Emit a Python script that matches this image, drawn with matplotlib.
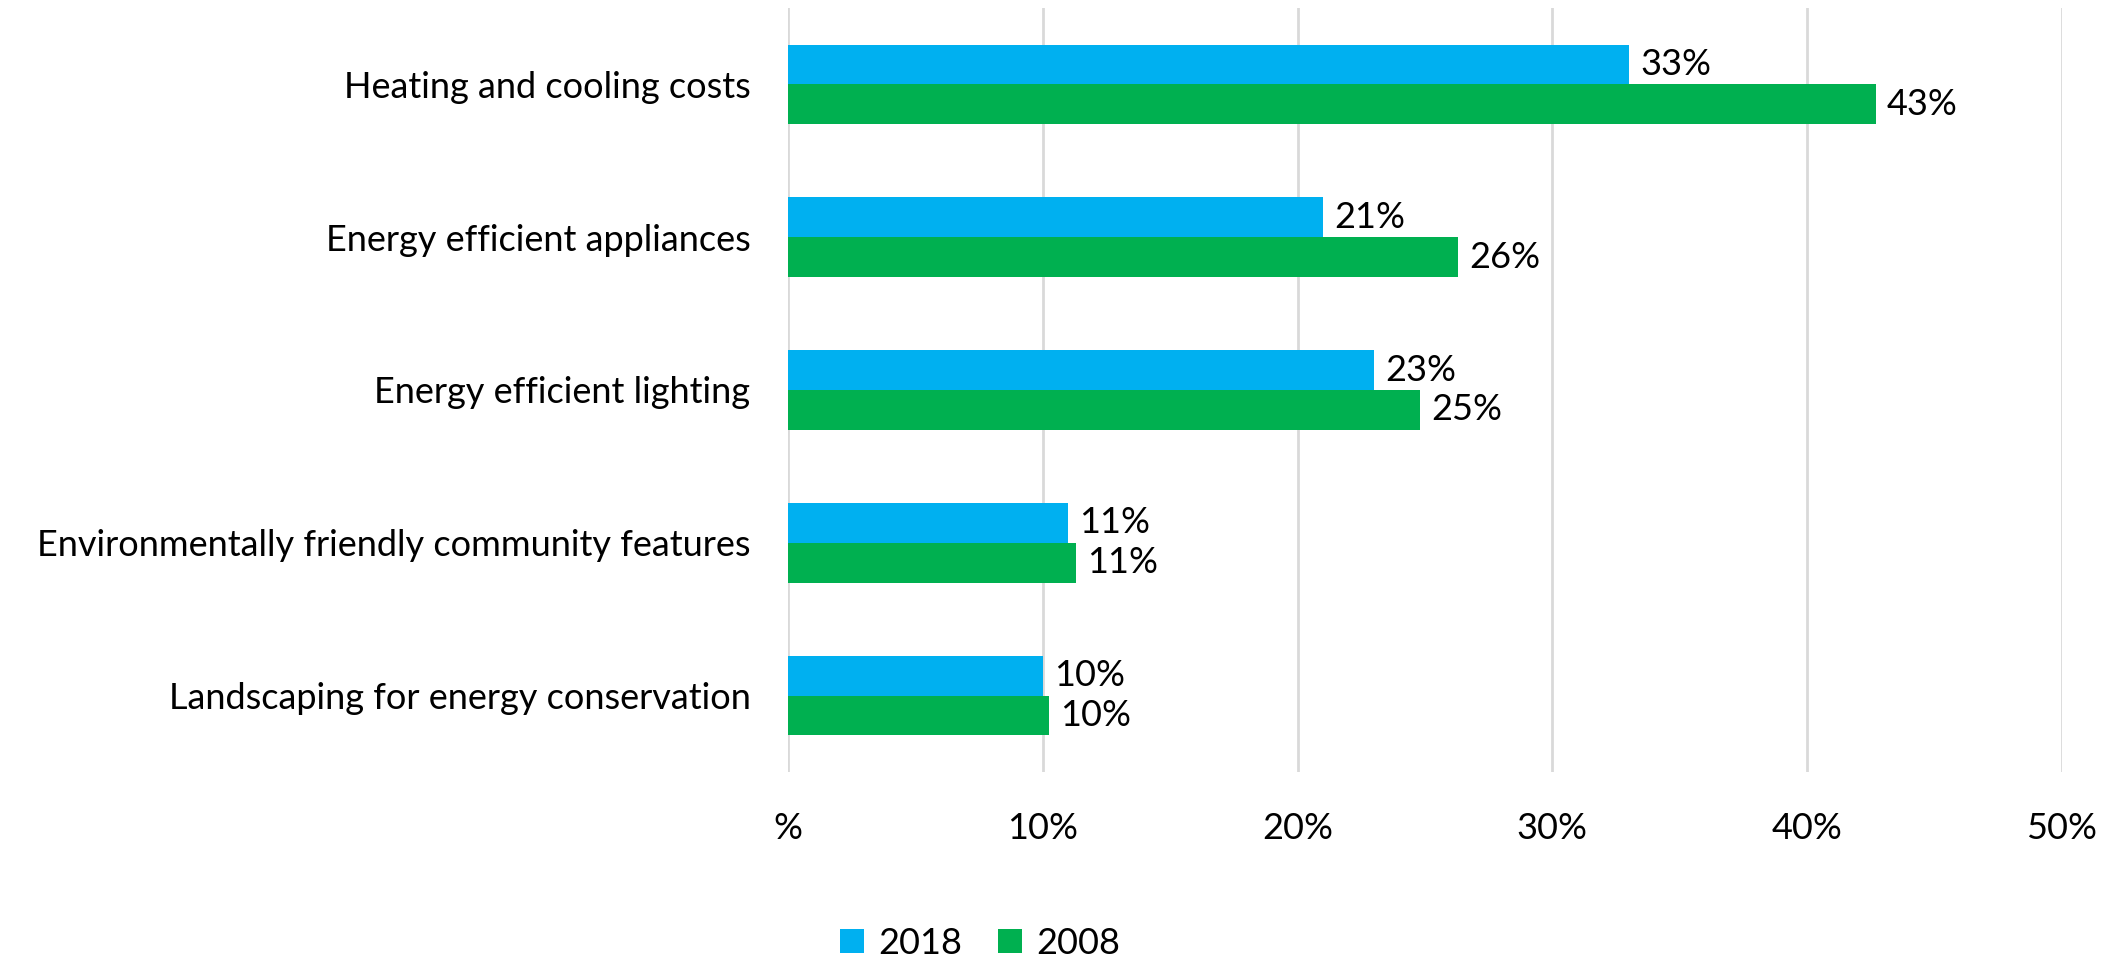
import matplotlib
matplotlib.use("Agg")
import matplotlib.pyplot as plt
from matplotlib.patches import Patch
import numpy as np

# Share of buyers rating each green feature as essential
categories = [
    "Heating and cooling costs",
    "Energy efficient appliances",
    "Energy efficient lighting",
    "Environmentally friendly community features",
    "Landscaping for energy conservation",
]
series_names = ["2018", "2008"]
values_2018 = [33.0, 21.0, 23.0, 11.0, 10.0]
values_2008 = [42.7, 26.3, 24.8, 11.3, 10.25]
x_ticks = [0, 10, 20, 30, 40, 50]
x_tick_labels = ["%", "10%", "20%", "30%", "40%", "50%"]

colors = {"2018": "#00B0F0", "2008": "#00B050"}

plt.rcParams["font.family"] = ["Lato", "DejaVu Sans"]
FS = 26

fig = plt.figure(figsize=(21.17, 9.57), dpi=100)
ax = fig.add_axes([788 / 2117, 1 - 772 / 957, (2062 - 788) / 2117, (772 - 8) / 957])

y = np.arange(len(categories))
h = 0.26
for name, vals, off in [("2018", values_2018, -h / 2), ("2008", values_2008, h / 2)]:
    bars = ax.barh(y + off, vals, height=h, color=colors[name], zorder=3)
    for b, v in zip(bars, vals):
        ax.annotate(f"{v:.0f}%", (b.get_width(), b.get_y() + b.get_height() / 2),
                    xytext=(8, 0), textcoords="offset points",
                    ha="left", va="center", fontsize=FS, color="#000000")

ax.set_xlim(0, 50)
ax.set_ylim(len(categories) - 0.5, -0.5)
ax.set_xticks(x_ticks)
ax.set_xticklabels(x_tick_labels)
ax.set_yticks(y)
ax.set_yticklabels(categories)
ax.tick_params(axis="x", length=0, pad=29, labelsize=FS)
ax.tick_params(axis="y", length=0, pad=27, labelsize=FS)
ax.grid(axis="x", color="#D9D9D9", linewidth=2, zorder=0)
for s in ax.spines.values():
    s.set_visible(False)

handles = [Patch(facecolor=colors[n], edgecolor="none", label=n) for n in series_names]
fig.legend(handles=handles, loc="center", bbox_to_anchor=(980 / 2117, 1 - 943 / 957),
           ncol=2, frameon=False, fontsize=FS, handlelength=0.65, handleheight=0.65,
           handletextpad=0.4, columnspacing=1.0)

fig.savefig("out.png", dpi=100)
